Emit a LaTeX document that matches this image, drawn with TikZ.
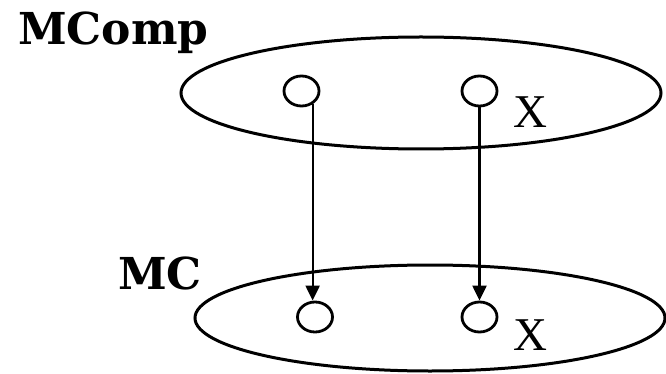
\documentclass[tikz,border=0pt]{standalone}
\usepackage{fontspec}
\setmainfont{Liberation Serif}
\newfontfamily\labfont{DejaVu Serif}
\usetikzlibrary{shapes.geometric,arrows.meta}
\tikzset{
  bigell/.style={draw,ellipse,line width=3pt,inner sep=0pt},
  dot/.style={draw,ellipse,line width=2.8pt,minimum width=35pt,minimum height=30pt,inner sep=0pt},
  arr/.style={line width=2.2pt,-{Triangle[length=15pt,width=14pt]}},
  title/.style={anchor=base west,inner sep=0pt,font=\labfont\bfseries\fontsize{44}{44}\selectfont},
  xlab/.style={anchor=base west,inner sep=0pt,font=\fontsize{47}{47}\selectfont}
}
\begin{document}
\begin{tikzpicture}[x=1pt,y=-1pt]
\useasboundingbox (0,0) rectangle (666,374);
\node[bigell,minimum width=480pt,minimum height=112pt] (top) at (421,93) {};
\node[bigell,minimum width=470pt,minimum height=106pt] (bot) at (430,318) {};
\node[dot] (c1) at (301.5,91) {};
\node[dot] (c2) at (479.5,91) {};
\node[dot] (c3) at (315,317) {};
\node[dot] (c4) at (479.5,317) {};
\draw[arr] (c1.-50) -- (c1.-50 |- c3.north);
\draw[arr] (c2.south) -- (c4.north);
\node[xlab] (x1) at (513,128) {X};
\node[xlab] (x2) at (513,350) {X};
\node[title] (mcomp) at (18,45) {MComp};
\node[title] (mc) at (118,289) {MC};
\end{tikzpicture}
\end{document}
